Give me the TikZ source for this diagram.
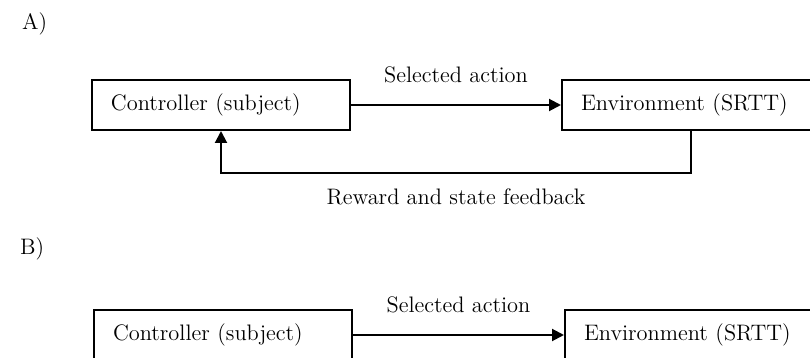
\documentclass[tikz,border=0pt]{standalone}
\usepackage{tikz}
\usetikzlibrary{arrows.meta, positioning}

\begin{document}
\begin{tikzpicture}[x=0.5pt, y=-0.5pt,
    font=\fontsize{11.2}{13}\selectfont,
    block/.style={rectangle, draw, line width=1pt, text width=110pt, align=left, inner xsep=9.5pt, minimum height=25pt},
    arrow/.style={-{Triangle[length=6pt, width=6pt]}, line width=1pt}]

    \clip (0,0) rectangle (810,358);

    % A) closed loop
    \node (labA) [anchor=base west] at (15,30) {A)};
    \node (ctrlA) [block, anchor=north west] at (91,79) {Controller (subject)};
    \node (envA) [block, right=105pt of ctrlA] {Environment (SRTT)};

    \draw [arrow] (ctrlA) -- node[above=7pt] {Selected action} (envA);
    \draw [arrow] (envA.south) -- ++(0,42) -| node[pos=0.25, below=4pt] {Reward and state feedback} (ctrlA.south);

    % B) open loop
    \node (labB) [anchor=base west] at (13,255) {B)};
    \node (ctrlB) [block, below=89pt of ctrlA, xshift=1pt] {Controller (subject)};
    \node (envB) [block, right=105.5pt of ctrlB] {Environment (SRTT)};

    \draw [arrow] (ctrlB) -- node[above=7pt] {Selected action} (envB);
\end{tikzpicture}
\end{document}
